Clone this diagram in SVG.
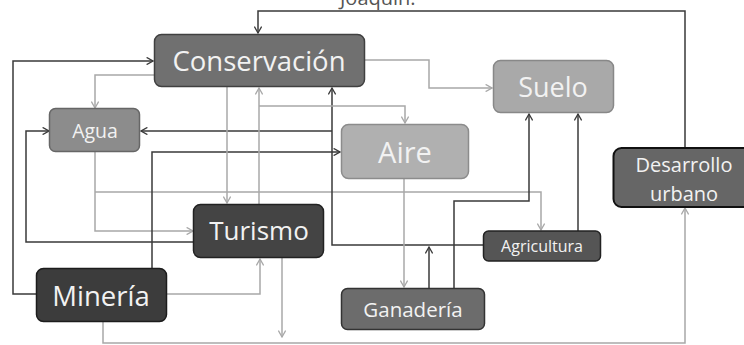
<svg xmlns="http://www.w3.org/2000/svg" width="744" height="345" viewBox="0 0 744 345">
<defs>
<marker id="ad" viewBox="0 0 10 10" refX="9" refY="5" markerWidth="8" markerHeight="8" markerUnits="userSpaceOnUse" orient="auto"><path d="M1,0.5 L9,5 L1,9.5" fill="none" stroke="#3a3a3a" stroke-width="1.6"/></marker>
<marker id="al" viewBox="0 0 10 10" refX="9" refY="5" markerWidth="8" markerHeight="8" markerUnits="userSpaceOnUse" orient="auto"><path d="M1,0.5 L9,5 L1,9.5" fill="none" stroke="#a8a8a8" stroke-width="1.6"/></marker>
<style>
.d{fill:none;stroke:#3a3a3a;stroke-width:1.5}
.l{fill:none;stroke:#a8a8a8;stroke-width:1.5}
.t{font-family:"Open Sans","Noto Sans",sans-serif;fill:#f2f2f2;text-anchor:middle;dominant-baseline:central}
</style>
</defs>
<rect width="744" height="345" fill="#fff"/>
<text x="340" y="5" font-family="Open Sans, sans-serif" font-size="20" fill="#555">Joaquín.</text>
<g id="connectors">
<path class="d" d="M685,148 V11 H258 V33" marker-end="url(#ad)"/>
<path class="d" d="M37,294 H13 V61 H153" marker-end="url(#ad)"/>
<path class="l" d="M154,75 H95 V108" marker-end="url(#al)"/>
<path class="d" d="M194,242 H26 V131 H49" marker-end="url(#ad)"/>
<path class="l" d="M95,152 V231 H193" marker-end="url(#al)"/>
<path class="l" d="M95,192 H541 V230" marker-end="url(#al)"/>
<path class="d" d="M152,268 V152 H340" marker-end="url(#ad)"/>
<path class="d" d="M483,245 H332 V88" marker-end="url(#ad)"/>
<path class="d" d="M332,131 H141" marker-end="url(#ad)"/>
<path class="l" d="M227,87 V203" marker-end="url(#al)"/>
<path class="l" d="M259,204 V88" marker-end="url(#al)"/>
<path class="l" d="M259,106 H405 V123" marker-end="url(#al)"/>
<path class="l" d="M365,60 H429 V88 H492" marker-end="url(#al)"/>
<path class="l" d="M404,179 V287" marker-end="url(#al)"/>
<path class="d" d="M454,288 V201 H529 V114" marker-end="url(#ad)"/>
<path class="d" d="M578,231 V114" marker-end="url(#ad)"/>
<path class="d" d="M429,288 V247" marker-end="url(#ad)"/>
<path class="l" d="M167,294 H260 V259" marker-end="url(#al)"/>
<path class="l" d="M282,258 V337" marker-end="url(#al)"/>
<path class="l" d="M103,322 V343 H685 V208" marker-end="url(#al)"/>
</g>
<g id="conservacion"><rect x="154.5" y="34.5" width="210" height="52" rx="7" fill="#707070" stroke="#404040" stroke-width="1.5"/><text class="t" x="259" y="60" font-size="27.5">Conservación</text></g>
<g id="agua"><rect x="49.5" y="108.5" width="90" height="43" rx="6" fill="#8c8c8c" stroke="#666" stroke-width="1.5"/><text class="t" x="95" y="130" font-size="19.5">Agua</text></g>
<g id="aire"><rect x="341.5" y="124.5" width="127" height="54" rx="7" fill="#b0b0b0" stroke="#8c8c8c" stroke-width="1.5"/><text class="t" x="405" y="151" font-size="29">Aire</text></g>
<g id="suelo"><rect x="493.5" y="60.5" width="120" height="52" rx="7" fill="#a9a9a9" stroke="#888" stroke-width="1.5"/><text class="t" x="553" y="86" font-size="27">Suelo</text></g>
<g id="turismo"><rect x="193.5" y="204.5" width="130" height="53" rx="7" fill="#444" stroke="#222" stroke-width="1.5"/><text class="t" x="259" y="230" font-size="26">Turismo</text></g>
<g id="mineria"><rect x="36.5" y="268.5" width="130" height="53" rx="7" fill="#3c3c3c" stroke="#1c1c1c" stroke-width="1.5"/><text class="t" x="101" y="295" font-size="27.5">Minería</text></g>
<g id="ganaderia"><rect x="341.5" y="288.5" width="143" height="41" rx="6" fill="#6c6c6c" stroke="#333" stroke-width="1.5"/><text class="t" x="413" y="309" font-size="20.5">Ganadería</text></g>
<g id="agricultura"><rect x="483.5" y="231" width="117" height="30" rx="5" fill="#555" stroke="#222" stroke-width="1.5"/><text class="t" x="542" y="246" font-size="16">Agricultura</text></g>
<g id="desarrollo"><rect x="613.5" y="148" width="140" height="59" rx="8" fill="#666" stroke="#111" stroke-width="2"/><text class="t" x="684" y="164" font-size="20">Desarrollo</text><text class="t" x="684" y="193" font-size="20">urbano</text></g>
</svg>
